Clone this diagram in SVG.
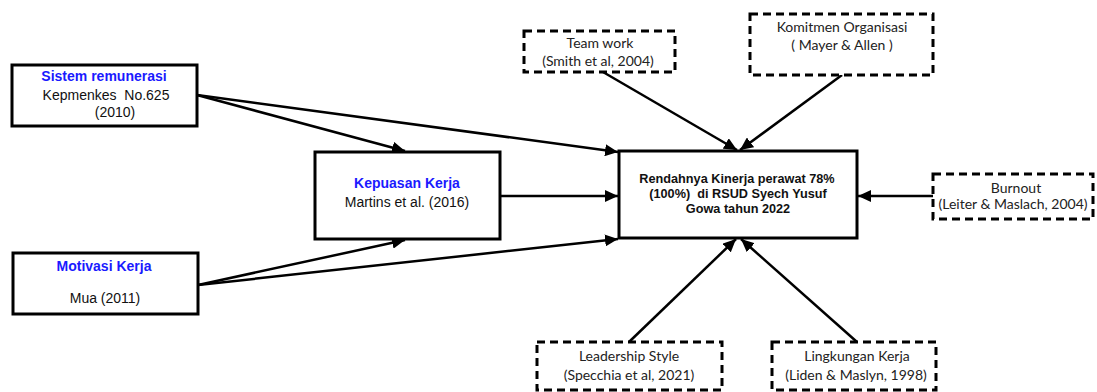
<svg xmlns="http://www.w3.org/2000/svg" width="1097" height="392" viewBox="0 0 1097 392">
<style>
.solid{fill:#fff;stroke:#000;stroke-width:3}
.dash{fill:#fff;stroke:#000;stroke-width:3;stroke-dasharray:8 5}
.t{font-family:"Liberation Sans",Arial,sans-serif;font-size:14px;fill:#111;text-anchor:middle}
.b{font-weight:bold;fill:#1a1aff}
.c{font-family:"Liberation Sans",Arial,sans-serif;font-size:12.7px;font-weight:bold;fill:#111;text-anchor:middle}
.d{font-family:Lato,"Open Sans",sans-serif;font-size:14px;fill:#222;text-anchor:middle}
.ln{stroke:#000;stroke-width:2.5;fill:none;marker-end:url(#ah)}
</style>
<defs>
<marker id="ah" markerUnits="userSpaceOnUse" markerWidth="14" markerHeight="12" refX="13" refY="6" orient="auto">
<path d="M0,0 L13,6 L0,12 Z" fill="#000"/>
</marker>
</defs>
<rect width="1097" height="392" fill="#fff"/>
<g id="connectors">
<line class="ln" x1="197" y1="95" x2="405" y2="151"/>
<line class="ln" x1="197" y1="95" x2="618" y2="152"/>
<line class="ln" x1="500" y1="196" x2="618" y2="196"/>
<line class="ln" x1="198" y1="285" x2="405" y2="240"/>
<line class="ln" x1="198" y1="285" x2="618" y2="239"/>
<line class="ln" x1="603" y1="72" x2="737" y2="150"/>
<line class="ln" x1="842" y1="75" x2="740" y2="150"/>
<line class="ln" x1="933" y1="196" x2="858" y2="196"/>
<line class="ln" x1="629" y1="342" x2="736" y2="239"/>
<line class="ln" x1="857" y1="342" x2="741" y2="239"/>
</g>
<g id="sistem">
<rect class="solid" x="12" y="65" width="185" height="61"/>
<text class="t b" x="104" y="81">Sistem remunerasi</text>
<text class="t" x="106" y="100" xml:space="preserve">Kepmenkes  No.625</text>
<text class="t" x="115" y="117">(2010)</text>
</g>
<g id="kepuasan">
<rect class="solid" x="315" y="152" width="185" height="87"/>
<text class="t b" x="407" y="188">Kepuasan Kerja</text>
<text class="t" x="407" y="207">Martins et al. (2016)</text>
</g>
<g id="motivasi">
<rect class="solid" x="13" y="253" width="185" height="61"/>
<text class="t b" x="104" y="271">Motivasi Kerja</text>
<text class="t" x="105" y="303">Mua (2011)</text>
</g>
<g id="kinerja">
<rect class="solid" x="619" y="151" width="238" height="87"/>
<text class="c" x="737" y="183">Rendahnya Kinerja perawat 78%</text>
<text class="c" x="738" y="198" xml:space="preserve">(100%)  di RSUD Syech Yusuf</text>
<text class="c" x="738" y="213">Gowa tahun 2022</text>
</g>
<g id="teamwork">
<rect class="dash" x="524" y="31" width="151" height="41"/>
<text class="d" x="600" y="48">Team work</text>
<text class="d" x="598" y="66">(Smith et al, 2004)</text>
</g>
<g id="komitmen">
<rect class="dash" x="750" y="14" width="183" height="61"/>
<text class="d" x="842" y="32">Komitmen Organisasi</text>
<text class="d" x="842" y="50">( Mayer &amp; Allen )</text>
</g>
<g id="burnout">
<rect class="dash" x="933" y="174" width="160" height="45"/>
<text class="d" x="1016" y="193">Burnout</text>
<text class="d" x="1013" y="209">(Leiter &amp; Maslach, 2004)</text>
</g>
<g id="leadership">
<rect class="dash" x="537" y="342" width="185" height="48"/>
<text class="d" x="629" y="361">Leadership Style</text>
<text class="d" x="629" y="380">(Specchia et al, 2021)</text>
</g>
<g id="lingkungan">
<rect class="dash" x="772" y="342" width="164" height="48"/>
<text class="d" x="857" y="361">Lingkungan Kerja</text>
<text class="d" x="856" y="380">(Liden &amp; Maslyn, 1998)</text>
</g>
</svg>
